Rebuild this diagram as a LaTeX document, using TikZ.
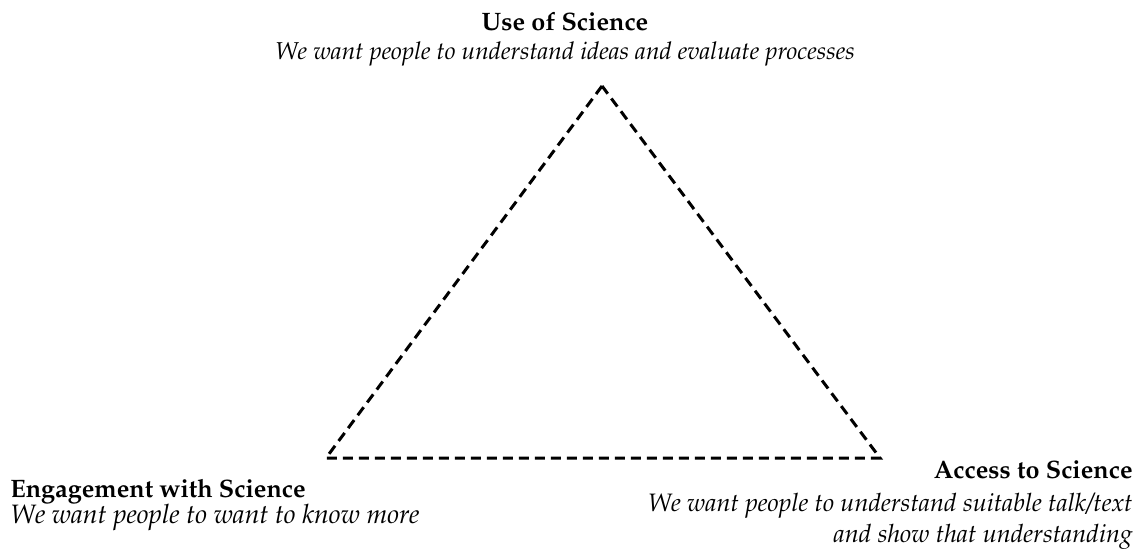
\documentclass[tikz,border=0pt]{standalone}
\usepackage[T1]{fontenc}
\usepackage{mathpazo}
\begin{document}
\begin{tikzpicture}[x=0.5pt,y=-0.5pt,
  ttl/.style={font=\fontsize{12.6}{15}\selectfont\bfseries, inner sep=0pt},
  sub/.style={font=\fontsize{12.2}{15}\selectfont\itshape, inner sep=0pt},
  tri/.style={line width=1.5pt, dash pattern=on 5pt off 3pt, line join=miter}]
\useasboundingbox (0,0) rectangle (1139,555);
\coordinate (A) at (602,86);
\coordinate (B) at (326,458);
\coordinate (C) at (880,458);
\draw[tri] (A) -- (B) -- (C) -- cycle;
\node[ttl, anchor=base] (use) at (565,31) {Use of Science};
\node[sub, anchor=base] (usesub) at (565,60) {We want people to understand ideas and evaluate processes};
\node[ttl, anchor=base west] (eng) at (10,497) {Engagement with Science};
\node[sub, anchor=base west, font=\fontsize{13.3}{15}\selectfont\itshape] (engsub) at (10,523) {We want people to want to know more};
\node[ttl, anchor=base east] (acc) at (1133,478) {Access to Science};
\node[sub, anchor=base east, font=\fontsize{12.6}{15}\selectfont\itshape] (accsub1) at (1133,511) {We want people to understand suitable talk/text};
\node[sub, anchor=base east, font=\fontsize{12.6}{15}\selectfont\itshape] (accsub2) at (1133,542) {and show that understanding};
\end{tikzpicture}
\end{document}
